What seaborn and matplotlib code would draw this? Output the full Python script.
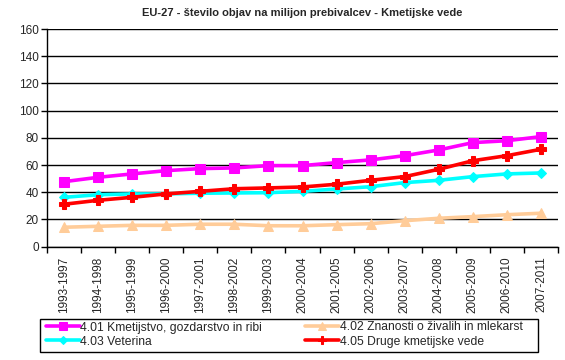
import numpy as np
import pandas as pd
import matplotlib
matplotlib.use('Agg')
import matplotlib.pyplot as plt
from matplotlib.patches import Rectangle
import seaborn as sns

periods = ['1993-1997', '1994-1998', '1995-1999', '1996-2000', '1997-2001', '1998-2002',
           '1999-2003', '2000-2004', '2001-2005', '2002-2006', '2003-2007', '2004-2008',
           '2005-2009', '2006-2010', '2007-2011']

kmetijstvo = [47.8, 51.0, 53.5, 55.9, 57.4, 57.9, 59.6, 59.6, 61.8, 63.8, 66.9, 71.1, 76.5, 77.9, 80.9]
znanosti = [14.3, 15.0, 15.7, 15.7, 16.5, 16.5, 15.4, 15.4, 16.2, 16.9, 19.1, 20.9, 22.1, 23.5, 24.6]
veterina = [36.3, 38.2, 38.8, 38.8, 39.3, 39.5, 39.7, 40.7, 42.4, 44.1, 47.1, 48.8, 51.5, 53.5, 54.2]
druge = [31.2, 34.1, 36.3, 38.8, 40.7, 42.6, 43.2, 43.9, 45.9, 48.8, 51.5, 56.9, 63.2, 66.9, 71.6]

series_names = ['4.01 Kmetijstvo, gozdarstvo in ribi', '4.02 Znanosti o živalih in mlekarst',
                '4.03 Veterina', '4.05 Druge kmetijske vede']
colors = ['#FF00FF', '#FFCC99', '#00FFFF', '#FF0000']
markers = ['s', '^', 'D', 'P']

sns.set_style('white')
plt.rcParams['font.family'] = ['Liberation Sans', 'DejaVu Sans']

fig = plt.figure(figsize=(5.65, 3.6), dpi=100)
ax = fig.add_axes([47 / 565, 1 - 246.7 / 360, (558 - 47) / 565, (246.7 - 29) / 360])

for name, vals, c, m in zip(series_names, [kmetijstvo, znanosti, veterina, druge], colors, markers):
    df = pd.DataFrame({'period': periods, 'value': vals})
    sns.lineplot(data=df, x='period', y='value', ax=ax, color=c, marker=m,
                 markersize=6.5 if m != 'D' else 5, markeredgecolor=c,
                 linewidth=2.6, label=name, sort=False)

ax.set_xlim(-0.5, len(periods) - 0.5)
ax.set_ylim(0, 160)
ax.set_yticks(np.arange(0, 161, 20))
ax.yaxis.grid(True, color='black', linewidth=1)
ax.set_axisbelow(True)
ax.set_xlabel('')
ax.set_ylabel('')

ax.set_xticks(range(len(periods)))
ax.set_xticklabels(periods, rotation=90, fontsize=8.5)
ax.set_xticks(np.arange(-0.5, len(periods), 1), minor=True)
ax.tick_params(axis='x', which='major', length=0, pad=7)
ax.tick_params(axis='x', which='minor', length=4, width=1, color='black', direction='out', bottom=True)
ax.tick_params(axis='y', length=4, width=1, color='black', direction='out', left=True, labelsize=8.5, pad=2)

for side in ['top', 'right']:
    ax.spines[side].set_visible(False)
for side in ['left', 'bottom']:
    ax.spines[side].set_color('black')
    ax.spines[side].set_linewidth(1)

ax.set_title('EU-27 - število objav na milijon prebivalcev - Kmetijske vede',
             fontsize=8, fontweight='bold', pad=9)

# legend: two rows, row-major order, inside a wide box
handles, labels = ax.get_legend_handles_labels()
ax.get_legend().remove()
order = [0, 2, 1, 3]
leg = fig.legend([handles[i] for i in order], [labels[i] for i in order],
                 loc='upper left', bbox_to_anchor=(46 / 565, 1 - 321.5 / 360),
                 ncol=2, fontsize=8.7, frameon=False,
                 handlelength=2.8, handletextpad=0.05, borderpad=0.0, labelspacing=0.18,
                 columnspacing=3.55, borderaxespad=0, markerscale=0.8)
fig.patches.append(Rectangle((40 / 565, 1 - 352 / 360), 498 / 565, 33 / 360,
                             transform=fig.transFigure, fill=False,
                             edgecolor='black', linewidth=1))

fig.savefig('out.png', dpi=100)
